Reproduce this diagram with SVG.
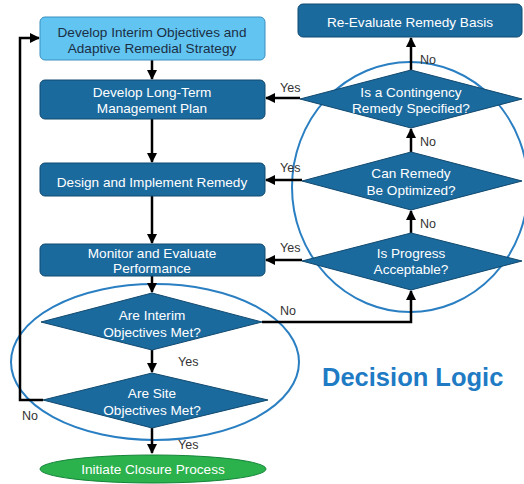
<svg xmlns="http://www.w3.org/2000/svg" width="524" height="484" viewBox="0 0 524 484">
<defs>
<marker id="ah" viewBox="0 0 10 10" refX="9" refY="5" markerWidth="4" markerHeight="4" orient="auto-start-reverse">
<path d="M0,0 L10,5 L0,10 z" fill="#000"/>
</marker>
<style>
.box{fill:#1b6a9e;stroke:#10496f;stroke-width:1}
.lbox{fill:#62c4f1;stroke:#3a8fbf;stroke-width:1}
.dia{fill:#1b6a9e;stroke:#10496f;stroke-width:1}
.t{font-family:"Liberation Sans",Arial,sans-serif;font-size:13.6px;fill:#fff;text-anchor:middle}
.td{font-family:"Liberation Sans",Arial,sans-serif;font-size:13.6px;fill:#1a2f45;text-anchor:middle}
.lab{font-family:"Liberation Sans",Arial,sans-serif;font-size:12.5px;fill:#333}
.c{fill:none;stroke:#000;stroke-width:2.5;marker-end:url(#ah)}
.ring{fill:none;stroke:#2a7fc2;stroke-width:2}
</style>
</defs>
<g id="rings">
<ellipse class="ring" cx="410" cy="187" rx="118" ry="125"/>
<ellipse class="ring" cx="155" cy="362" rx="144" ry="78"/>
</g>
<g id="connectors">
<path class="c" d="M152,60 V79"/>
<path class="c" d="M152,119 V162"/>
<path class="c" d="M152,196 V243"/>
<path class="c" d="M152,276 V292"/>
<path class="c" d="M152,350 V372"/>
<path class="c" d="M152,428 V453"/>
<path class="c" d="M43,400 H20 V38 H39"/>
<path class="c" d="M262,322 H411 V291"/>
<path class="c" d="M411,233 V211"/>
<path class="c" d="M411,152 V129"/>
<path class="c" d="M411,70 V38"/>
<path class="c" d="M300,98 H266"/>
<path class="c" d="M302,180 H266"/>
<path class="c" d="M302,260 H266"/>
</g>
<g id="labels">
<text class="lab" x="280" y="92">Yes</text>
<text class="lab" x="280" y="172">Yes</text>
<text class="lab" x="280" y="252">Yes</text>
<text class="lab" x="420" y="64">No</text>
<text class="lab" x="420" y="146">No</text>
<text class="lab" x="420" y="228">No</text>
<text class="lab" x="280" y="315">No</text>
<text class="lab" x="178" y="366">Yes</text>
<text class="lab" x="178" y="449">Yes</text>
<text class="lab" x="22" y="420">No</text>
</g>
<g id="n1">
<rect class="lbox" x="40" y="17" width="225" height="43" rx="5"/>
<text class="td" x="152" y="37">Develop Interim Objectives and</text>
<text class="td" x="152" y="53">Adaptive Remedial Strategy</text>
</g>
<g id="n2">
<rect class="box" x="40" y="80" width="225" height="39" rx="5"/>
<text class="t" x="152" y="97">Develop Long-Term</text>
<text class="t" x="152" y="113">Management Plan</text>
</g>
<g id="n3">
<rect class="box" x="40" y="163" width="225" height="33" rx="5"/>
<text class="t" x="152" y="187">Design and Implement Remedy</text>
</g>
<g id="n4">
<rect class="box" x="40" y="244" width="225" height="32" rx="5"/>
<text class="t" x="152" y="258">Monitor and Evaluate</text>
<text class="t" x="152" y="273">Performance</text>
</g>
<g id="n5">
<rect class="box" x="298" y="4" width="224" height="33" rx="5"/>
<text class="t" x="410" y="27">Re-Evaluate Remedy Basis</text>
</g>
<g id="d1">
<polygon class="dia" points="411,70 522,99 411,128 300,99"/>
<text class="t" x="411" y="97">Is a Contingency</text>
<text class="t" x="411" y="113">Remedy Specified?</text>
</g>
<g id="d2">
<polygon class="dia" points="411,152 522,181 411,210 302,181"/>
<text class="t" x="411" y="178">Can Remedy</text>
<text class="t" x="411" y="195">Be Optimized?</text>
</g>
<g id="d3">
<polygon class="dia" points="411,233 522,261 411,290 302,261"/>
<text class="t" x="411" y="258">Is Progress</text>
<text class="t" x="411" y="274">Acceptable?</text>
</g>
<g id="d4">
<polygon class="dia" points="152,293 262,322 152,350 41,322"/>
<text class="t" x="152" y="320">Are Interim</text>
<text class="t" x="152" y="337">Objectives Met?</text>
</g>
<g id="d5">
<polygon class="dia" points="152,373 268,400 152,428 43,400"/>
<text class="t" x="152" y="398">Are Site</text>
<text class="t" x="152" y="415">Objectives Met?</text>
</g>
<g id="n6">
<ellipse cx="153" cy="469" rx="113" ry="14" fill="#2bb24c" stroke="#16843a" stroke-width="1"/>
<text class="t" x="153" y="474">Initiate Closure Process</text>
</g>
<text x="322" y="386" font-family="Liberation Sans, Arial, sans-serif" font-size="25.5" font-weight="bold" fill="#1e7bc4">Decision Logic</text>
</svg>
